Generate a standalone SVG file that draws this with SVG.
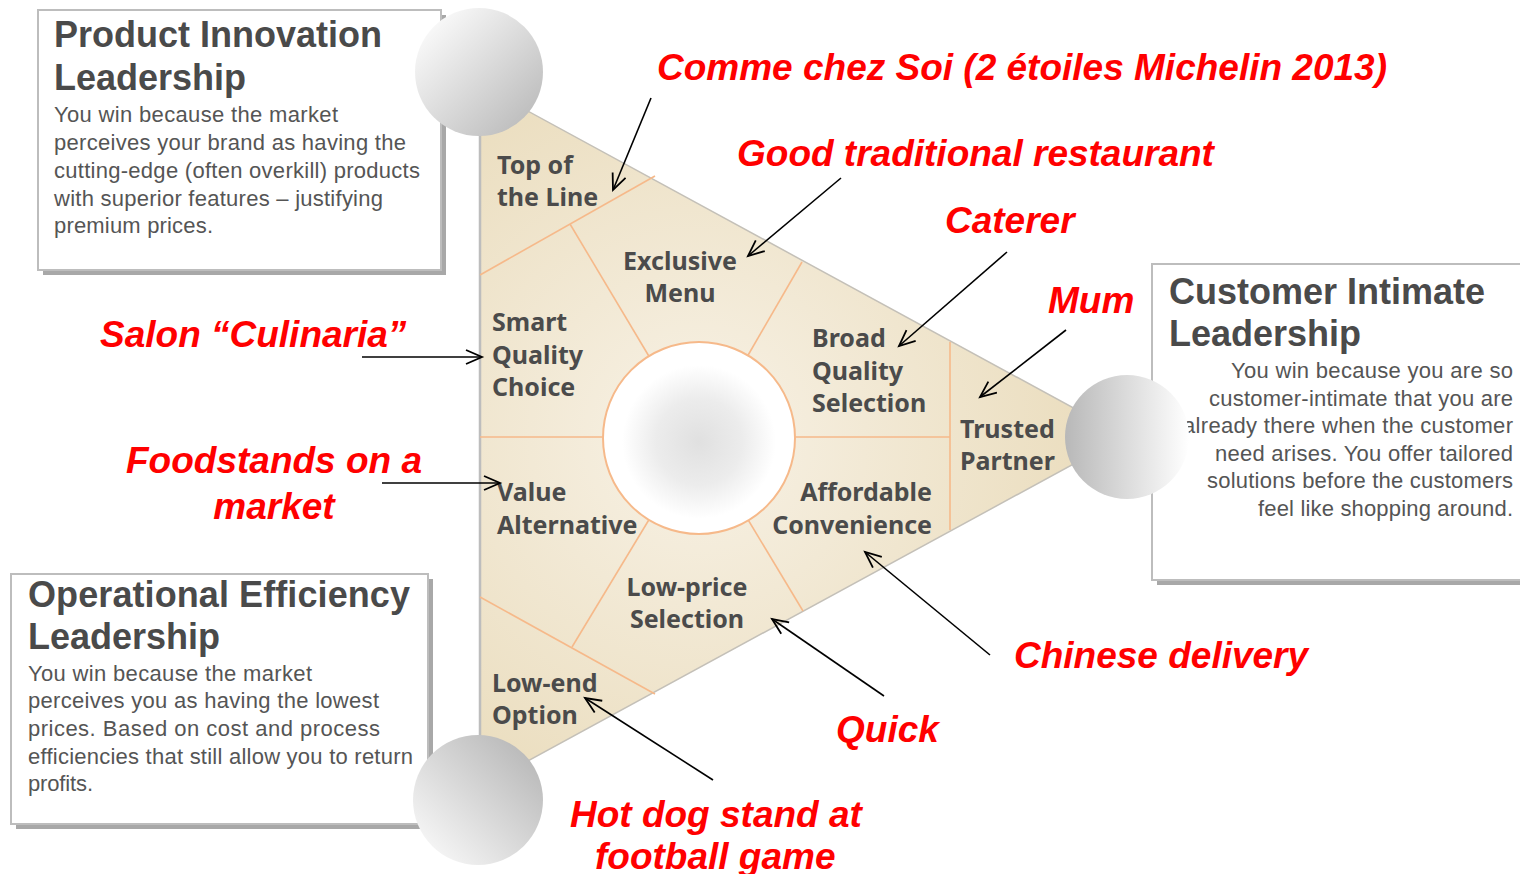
<svg xmlns="http://www.w3.org/2000/svg" width="1520" height="874" viewBox="0 0 1520 874">
<defs>
  <style>
    .shadow{fill:#a8a8a8}
    .box{fill:#ffffff;stroke:#bdbdbd;stroke-width:2}
    .title{font-family:"Liberation Sans",Arial,sans-serif;font-weight:bold;font-size:36px;fill:#4a4a4a}
    .body{font-family:"Liberation Sans",Arial,sans-serif;font-size:22px;fill:#555555}
    .seg{font-family:"Noto Sans","DejaVu Sans",sans-serif;font-weight:700;font-size:25px;fill:#4b4b4b}
    .red{font-family:"Liberation Sans",Arial,sans-serif;font-weight:bold;font-style:italic;font-size:37px;fill:#ff0000}
    .div{stroke:#f6b98a;stroke-width:1.6;fill:none}
    .arrow{stroke:#000;stroke-width:1.6;fill:none;marker-end:url(#head)}
  </style>
  <marker id="head" markerUnits="userSpaceOnUse" markerWidth="20" markerHeight="20" refX="17" refY="8" orient="auto">
    <path d="M1,1 L17,8 L1,15" fill="none" stroke="#000" stroke-width="1.8"/>
  </marker>
  <radialGradient id="triFill" cx="698" cy="437" r="480" gradientUnits="userSpaceOnUse">
    <stop offset="0" stop-color="#f8f2e6"/>
    <stop offset="0.35" stop-color="#f2e9d5"/>
    <stop offset="1" stop-color="#e8d9b6"/>
  </radialGradient>
  <radialGradient id="hub" cx="0.5" cy="0.52" r="0.5">
    <stop offset="0" stop-color="#e0e0e0"/>
    <stop offset="0.45" stop-color="#ececec"/>
    <stop offset="0.8" stop-color="#ffffff"/>
    <stop offset="1" stop-color="#ffffff"/>
  </radialGradient>
  <linearGradient id="ballTop" x1="0.15" y1="0.15" x2="0.9" y2="0.9">
    <stop offset="0" stop-color="#f7f7f7"/>
    <stop offset="1" stop-color="#bcbcbc"/>
  </linearGradient>
  <linearGradient id="ballRight" x1="0" y1="0.5" x2="1" y2="0.5">
    <stop offset="0" stop-color="#b8b8b8"/>
    <stop offset="1" stop-color="#ffffff"/>
  </linearGradient>
  <linearGradient id="ballBottom" x1="0.1" y1="0.9" x2="0.9" y2="0.1">
    <stop offset="0" stop-color="#f7f7f7"/>
    <stop offset="1" stop-color="#b8b8b8"/>
  </linearGradient>
</defs>
<rect width="1520" height="874" fill="#ffffff"/>

<g id="box-product">
  <rect class="shadow" x="43" y="15" width="403" height="260"/>
  <rect class="box" x="38" y="10" width="403" height="260"/>
  <text class="title" x="54" y="47">Product Innovation</text>
  <text class="title" x="54" y="90">Leadership</text>
  <text class="body" x="54" y="122" textLength="284" lengthAdjust="spacing">You win because the market</text>
  <text class="body" x="54" y="150" textLength="352" lengthAdjust="spacing">perceives your brand as having the</text>
  <text class="body" x="54" y="178" textLength="366" lengthAdjust="spacing">cutting-edge (often overkill) products</text>
  <text class="body" x="54" y="206" textLength="329" lengthAdjust="spacing">with superior features – justifying</text>
  <text class="body" x="54" y="233" textLength="159" lengthAdjust="spacing">premium prices.</text>
</g>

<g id="box-customer">
  <rect class="shadow" x="1157" y="269" width="380" height="316"/>
  <rect class="box" x="1152" y="264" width="380" height="316"/>
  <text class="title" x="1169" y="304">Customer Intimate</text>
  <text class="title" x="1169" y="346">Leadership</text>
  <g text-anchor="end">
    <text class="body" x="1513" y="378" textLength="282" lengthAdjust="spacing">You win because you are so</text>
    <text class="body" x="1513" y="406" textLength="304" lengthAdjust="spacing">customer-intimate that you are</text>
    <text class="body" x="1513" y="433" textLength="330" lengthAdjust="spacing">already there when the customer</text>
    <text class="body" x="1513" y="461" textLength="298" lengthAdjust="spacing">need arises. You offer tailored</text>
    <text class="body" x="1513" y="488" textLength="306" lengthAdjust="spacing">solutions before the customers</text>
    <text class="body" x="1513" y="516" textLength="255" lengthAdjust="spacing">feel like shopping around.</text>
  </g>
</g>

<g id="box-operational">
  <rect class="shadow" x="16" y="579" width="417" height="250"/>
  <rect class="box" x="11" y="574" width="417" height="250"/>
  <text class="title" x="28" y="607" textLength="382" lengthAdjust="spacing">Operational Efficiency</text>
  <text class="title" x="28" y="649">Leadership</text>
  <text class="body" x="28" y="681" textLength="284" lengthAdjust="spacing">You win because the market</text>
  <text class="body" x="28" y="708" textLength="351" lengthAdjust="spacing">perceives you as having the lowest</text>
  <text class="body" x="28" y="736" textLength="352" lengthAdjust="spacing">prices. Based on cost and process</text>
  <text class="body" x="28" y="764" textLength="385" lengthAdjust="spacing">efficiencies that still allow you to return</text>
  <text class="body" x="28" y="791" textLength="65" lengthAdjust="spacing">profits.</text>
</g>

<g id="triangle">
  <polygon points="480,85 1125,436 480,787" fill="url(#triFill)" stroke="#c4c0b8" stroke-width="1.5"/>
  <line x1="480" y1="85" x2="480" y2="787" stroke="#bdbdbd" stroke-width="2.5"/>
  <line class="div" x1="480" y1="275" x2="655" y2="176"/>
  <line class="div" x1="570" y1="224" x2="650" y2="358"/>
  <line class="div" x1="802" y1="262" x2="747" y2="357"/>
  <line class="div" x1="950" y1="342" x2="950" y2="530"/>
  <line class="div" x1="480" y1="437" x2="603" y2="437"/>
  <line class="div" x1="794" y1="437" x2="950" y2="437"/>
  <line class="div" x1="650" y1="518" x2="572" y2="647"/>
  <line class="div" x1="747" y1="518" x2="803" y2="611"/>
  <line class="div" x1="480" y1="597" x2="655" y2="694"/>
  <circle id="hub-circle" cx="699" cy="438" r="96" fill="url(#hub)" stroke="#f6b98a" stroke-width="2"/>
</g>

<g id="segment-labels" class="seg">
  <text x="497" y="174">Top of</text>
  <text x="497" y="206">the Line</text>
  <text x="680" y="270" text-anchor="middle">Exclusive</text>
  <text x="680" y="302" text-anchor="middle">Menu</text>
  <text x="492" y="331">Smart</text>
  <text x="492" y="364">Quality</text>
  <text x="492" y="396">Choice</text>
  <text x="812" y="347">Broad</text>
  <text x="812" y="380">Quality</text>
  <text x="812" y="412">Selection</text>
  <text x="960" y="438">Trusted</text>
  <text x="960" y="470">Partner</text>
  <text x="497" y="501">Value</text>
  <text x="497" y="534">Alternative</text>
  <text x="932" y="501" text-anchor="end">Affordable</text>
  <text x="932" y="534" text-anchor="end">Convenience</text>
  <text x="687" y="596" text-anchor="middle">Low-price</text>
  <text x="687" y="628" text-anchor="middle">Selection</text>
  <text x="492" y="692">Low-end</text>
  <text x="492" y="724">Option</text>
</g>

<g id="balls">
  <circle cx="479" cy="72" r="64" fill="url(#ballTop)"/>
  <circle cx="1127" cy="437" r="62" fill="url(#ballRight)"/>
  <circle cx="478" cy="800" r="65" fill="url(#ballBottom)"/>
</g>

<g id="examples" class="red">
  <text x="657" y="80">Comme chez Soi (2 étoiles Michelin 2013)</text>
  <text x="737" y="166">Good traditional restaurant</text>
  <text x="945" y="233">Caterer</text>
  <text x="1048" y="313">Mum</text>
  <text x="100" y="347">Salon “Culinaria”</text>
  <text x="126" y="473">Foodstands on a</text>
  <text x="274" y="519" text-anchor="middle">market</text>
  <text x="1014" y="668">Chinese delivery</text>
  <text x="836" y="742">Quick</text>
  <text x="570" y="827">Hot dog stand at</text>
  <text x="595" y="869">football game</text>
</g>

<g id="connectors">
  <line class="arrow" x1="651" y1="98" x2="613" y2="190"/>
  <line class="arrow" x1="841" y1="178" x2="748" y2="256"/>
  <line class="arrow" x1="1007" y1="252" x2="899" y2="346"/>
  <line class="arrow" x1="1066" y1="330" x2="980" y2="397"/>
  <line class="arrow" x1="362" y1="357" x2="482" y2="357"/>
  <line class="arrow" x1="382" y1="483" x2="500" y2="483"/>
  <line class="arrow" x1="990" y1="655" x2="865" y2="552"/>
  <line class="arrow" x1="884" y1="696" x2="772" y2="619"/>
  <line class="arrow" x1="713" y1="780" x2="585" y2="698"/>
</g>
</svg>
